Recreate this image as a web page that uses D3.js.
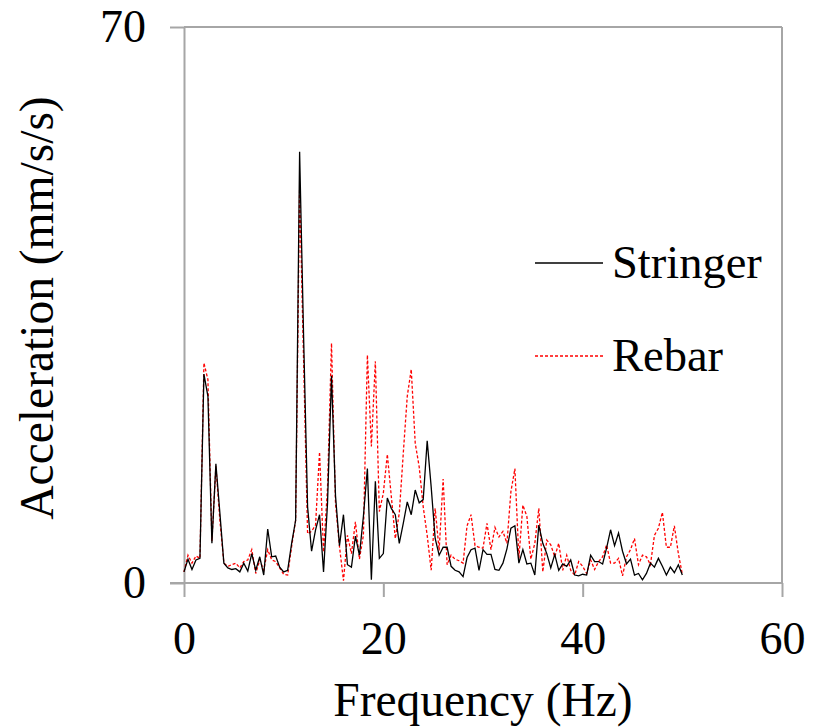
<!DOCTYPE html>
<html>
<head>
<meta charset="utf-8">
<script src="https://cdn.jsdelivr.net/npm/d3@7"></script>
<style>
  html, body { margin: 0; padding: 0; background: #fff; }
  svg { display: block; }
  svg text { font-family: "Liberation Serif", "DejaVu Serif", serif !important; }
</style>
</head>
<body>
<svg id="chart" width="821" height="728"></svg>
<script>
// ---- data ----
const freqStep = 0.4; // Hz between samples, first sample at 0 Hz
const stringer = [
  1.4, 3.0, 1.7, 2.9, 3.1, 26.3, 23.5, 5.0, 15.0, 8.8,
  2.5, 1.9, 1.7, 1.8, 1.4, 2.5, 1.5, 3.7, 1.6, 3.3,
  1.0, 6.8, 3.3, 3.4, 2.0, 1.4, 1.6, 5.0, 7.9, 54.3,
  31.0, 9.6, 4.0, 6.7, 8.6, 1.4, 10.0, 26.1, 11.0, 4.7,
  8.6, 2.3, 2.0, 5.9, 3.5, 8.4, 14.4, 0.4, 12.8, 3.1,
  3.7, 10.7, 9.4, 8.6, 5.0, 7.5, 10.2, 8.6, 11.7, 10.1,
  10.5, 17.9, 12.1, 5.6, 3.5, 4.5, 4.5, 2.1, 1.6, 1.4,
  0.8, 3.2, 4.2, 4.4, 1.6, 4.2, 3.6, 3.6, 1.7, 1.6,
  2.5, 4.3, 6.9, 7.2, 2.5, 4.2, 2.4, 2.5, 1.0, 7.3,
  5.0, 3.7, 1.9, 3.6, 1.6, 2.4, 2.1, 2.9, 1.0, 0.9,
  1.1, 1.0, 3.5, 2.7, 2.7, 2.4, 4.4, 6.7, 4.7, 6.3,
  4.0, 2.4, 3.0, 1.0, 1.2, 0.4, 1.2, 2.5, 2.0, 3.1,
  2.1, 1.0, 2.0, 1.3, 2.3, 1.0
];
const rebar = [
  1.4, 3.5, 2.5, 3.4, 3.1, 27.7, 25.6, 5.3, 14.7, 7.9,
  2.5, 2.1, 2.3, 2.5, 1.9, 2.7, 2.9, 4.2, 1.2, 2.9,
  1.6, 4.2, 2.9, 2.7, 1.9, 1.1, 1.0, 4.6, 7.9, 49.6,
  28.0, 6.2, 6.5, 7.3, 16.5, 3.9, 12.0, 30.2, 10.0, 4.6,
  0.3, 6.0, 3.7, 7.7, 3.0, 6.0, 28.7, 17.2, 27.9, 9.0,
  11.3, 16.2, 10.9, 5.6, 8.8, 16.3, 23.5, 26.9, 17.6, 14.6,
  9.6, 6.0, 1.6, 9.4, 4.1, 13.1, 2.3, 3.5, 3.0, 2.8,
  2.5, 7.2, 8.6, 4.7, 4.5, 4.4, 7.5, 4.2, 7.0, 5.8,
  6.5, 5.0, 11.5, 14.4, 3.1, 9.8, 8.4, 3.0, 5.0, 9.4,
  1.4, 5.4, 4.8, 3.3, 5.0, 1.6, 3.5, 1.6, 1.0, 2.7,
  2.1, 1.2, 2.9, 1.7, 2.7, 3.3, 4.8, 2.5, 2.5, 3.1,
  0.9, 3.3, 4.2, 5.6, 2.3, 3.5, 3.3, 2.3, 6.0, 6.9,
  8.9, 4.5, 4.5, 7.2, 3.7, 1.1
];
const xTicks = [0, 20, 40, 60];
const yTicks = [0, 70];
const seriesNames = ["Stringer", "Rebar"];

// ---- layout ----
const svg = d3.select("#chart");
const mLeft = 184, mRight = 782, mTop = 27, mBottom = 583;
const x = d3.scaleLinear().domain([0, 60]).range([mLeft, mRight]);
const y = d3.scaleLinear().domain([0, 70]).range([mBottom, mTop]);
const axisColor = "#a6a6a6";
const fontSize = 46;
const titleSize = 47.5;
const serif = "Liberation Serif, DejaVu Serif, serif";

// plot border (top & right)
svg.append("line").attr("x1", mLeft).attr("x2", mRight).attr("y1", mTop).attr("y2", mTop)
  .attr("stroke", axisColor).attr("stroke-width", 2);
svg.append("line").attr("x1", mRight).attr("x2", mRight).attr("y1", mTop).attr("y2", mBottom)
  .attr("stroke", axisColor).attr("stroke-width", 2);

// axes
const gx = svg.append("g").attr("transform", `translate(0,${mBottom})`)
  .call(d3.axisBottom(x).tickValues(xTicks).tickFormat(d3.format("d"))
    .tickSize(14).tickSizeOuter(0).tickPadding(24));
const gy = svg.append("g").attr("transform", `translate(${mLeft},0)`)
  .call(d3.axisLeft(y).tickValues(yTicks).tickFormat(d3.format("d"))
    .tickSize(14).tickSizeOuter(0).tickPadding(24));
[gx, gy].forEach(g => {
  g.attr("font-family", serif).attr("font-size", fontSize);
  g.select(".domain").attr("stroke", axisColor).attr("stroke-width", 2);
  g.selectAll(".tick line").attr("stroke", axisColor).attr("stroke-width", 2);
  g.selectAll(".tick text").attr("fill", "#000")
    .attr("font-family", serif).attr("font-size", fontSize);
});
// extend bottom axis line leftwards to meet the y tick
gx.select(".domain").attr("d", `M${mLeft - 14},0H${mRight}`);

// data lines
const line = d3.line().x((d, i) => x(i * freqStep)).y(d => y(d));
svg.append("path").datum(rebar).attr("d", line)
  .attr("fill", "none").attr("stroke", "#ff0000").attr("stroke-width", 1.3)
  .attr("stroke-dasharray", "3,2");
svg.append("path").datum(stringer).attr("d", line)
  .attr("fill", "none").attr("stroke", "#000").attr("stroke-width", 1.3);

// axis titles
svg.append("text").attr("x", (mLeft + mRight) / 2).attr("y", 716)
  .attr("text-anchor", "middle").attr("font-family", serif).attr("font-size", titleSize)
  .text("Frequency (Hz)");
svg.append("text").attr("transform", `translate(53,${(mTop + mBottom) / 2 + 3}) rotate(-90)`)
  .attr("text-anchor", "middle").attr("font-family", serif).attr("font-size", titleSize)
  .text("Acceleration (mm/s/s)");

// legend
const legendY = [263, 356];
const legendStyles = [
  { stroke: "#000", dash: null },
  { stroke: "#ff0000", dash: "3,2" }
];
seriesNames.forEach((name, k) => {
  svg.append("line").attr("x1", 535).attr("x2", 603)
    .attr("y1", legendY[k]).attr("y2", legendY[k])
    .attr("stroke", legendStyles[k].stroke).attr("stroke-width", 1.3)
    .attr("stroke-dasharray", legendStyles[k].dash);
  svg.append("text").attr("x", 612).attr("y", legendY[k] + 15)
    .attr("font-family", serif).attr("font-size", 46.5).text(name);
});
</script>
</body>
</html>
